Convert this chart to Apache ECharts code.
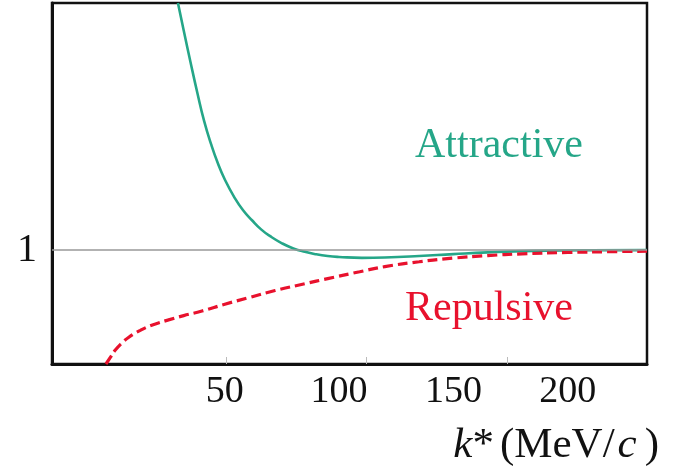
<!DOCTYPE html>
<html><head><meta charset="utf-8">
<script src="https://cdn.jsdelivr.net/npm/echarts@6/dist/echarts.min.js"></script>
<style>html,body{margin:0;padding:0;background:#fff}#c{width:673px;height:471px}</style>
</head><body><div id="c"></div>
<script>
// k* (MeV/c) tick labels
const xLabels = [50, 100, 150, 200];
// faint inner tick marks drawn on the bottom axis
const xTickMarks = [50.5, 112, 173.5];
const yLabels = [1];
const refLevel = 1;
// Attractive correlation: [k*, C]
const attractive = [
  [29.5, 3.17], [32, 2.93], [35, 2.65], [38, 2.38], [41, 2.13], [44, 1.93],
  [47, 1.76], [50, 1.62], [54, 1.47], [58, 1.35], [62, 1.26], [66, 1.18],
  [70, 1.12], [75, 1.06], [80, 1.015], [85, 0.985], [90, 0.963], [95, 0.948],
  [100, 0.94], [110, 0.932], [120, 0.935], [135, 0.948], [150, 0.965],
  [165, 0.98], [185, 0.993], [210, 0.999], [234.7, 1.0]
];
// Repulsive correlation: [k*, C]
const repulsive = [
  [-2, 0], [0, 0.06], [2, 0.12], [4.5, 0.175], [8, 0.235], [13, 0.295],
  [18, 0.34], [25, 0.385], [32, 0.425], [40, 0.465], [50, 0.525], [60, 0.58],
  [72, 0.645], [85, 0.705], [95, 0.75], [109, 0.81], [120, 0.855], [135, 0.898],
  [150, 0.93], [165, 0.952], [180, 0.967], [200, 0.979], [220, 0.987], [234.7, 0.99]
];
const labelAttractive = 'Attractive';
const labelRepulsive = 'Repulsive';

const green = '#25a688';
const red = '#e8112d';
const serif = 'Liberation Serif';

const chart = echarts.init(document.getElementById('c'), null, {renderer: 'canvas'});
chart.setOption({
  animation: false,
  backgroundColor: '#fff',
  grid: {
    left: 52, right: 26, top: 3, bottom: 107,
    show: true, borderColor: '#111', borderWidth: 2.5,
    outerBoundsMode: 'none', containLabel: false
  },
  xAxis: {
    type: 'value', min: -25.6, max: 234.7,
    axisLine: {show: true, onZero: false, lineStyle: {color: '#111', width: 3}},
    axisTick: {show: true, inside: true, length: 7, customValues: xTickMarks,
      lineStyle: {color: '#bbb', width: 1}},
    axisLabel: {customValues: xLabels, fontFamily: serif, fontSize: 38, color: '#111', margin: 9},
    splitLine: {show: false},
    name: '{it|k}{n|*}{p|(MeV/}{c|c}{n|)}',
    nameLocation: 'end', nameGap: 12,
    nameTextStyle: {
      align: 'right', verticalAlign: 'top', padding: [60, 0, 0, 0],
      rich: {
        it: {fontFamily: serif, fontSize: 43, fontStyle: 'italic', color: '#111'},
        n: {fontFamily: serif, fontSize: 43, color: '#111'},
        p: {fontFamily: serif, fontSize: 43, color: '#111', padding: [0, 0, 0, 6]},
        c: {fontFamily: serif, fontSize: 43, fontStyle: 'italic', color: '#111', padding: [0, 8, 0, 3]}
      }
    }
  },
  yAxis: {
    type: 'value', min: 0, max: 3.17,
    axisLine: {show: true, onZero: false, lineStyle: {color: '#111', width: 3}},
    axisTick: {show: false},
    axisLabel: {customValues: yLabels, fontFamily: serif, fontSize: 40, color: '#111', margin: 15},
    splitLine: {show: false}
  },
  series: [
    {
      type: 'line', data: [], z: 1, silent: true,
      markLine: {
        silent: true, symbol: 'none', animation: false,
        label: {show: false},
        lineStyle: {color: '#999', width: 1.5, type: 'solid'},
        data: [{yAxis: refLevel}]
      }
    },
    {
      name: labelAttractive, type: 'line', data: attractive, smooth: 0.5,
      showSymbol: false, clip: true, z: 3,
      lineStyle: {color: green, width: 2.6}
    },
    {
      name: labelRepulsive, type: 'line', data: repulsive, smooth: 0.5,
      showSymbol: false, clip: true, z: 4,
      lineStyle: {color: red, width: 3.2, type: [10, 5]}
    }
  ],
  graphic: [
    {type: 'text', x: 499, y: 146, silent: true,
      style: {text: labelAttractive, fill: green, font: '42px "Liberation Serif"',
        textAlign: 'center', textVerticalAlign: 'middle'}},
    {type: 'text', x: 489, y: 309, silent: true,
      style: {text: labelRepulsive, fill: red, font: '42px "Liberation Serif"',
        textAlign: 'center', textVerticalAlign: 'middle'}}
  ]
});
</script>
</body></html>
